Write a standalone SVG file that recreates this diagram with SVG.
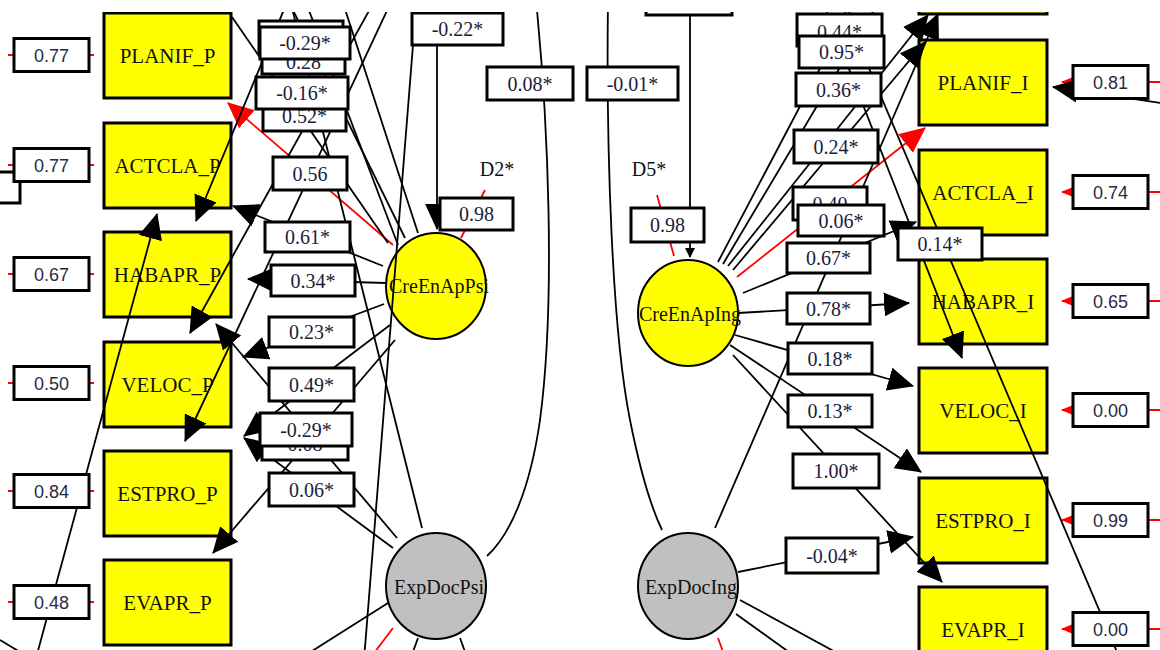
<svg xmlns="http://www.w3.org/2000/svg" width="1160" height="650" viewBox="0 0 1160 650">
<defs>
<clipPath id="frame"><rect x="0" y="12" width="1160" height="640"/></clipPath>
<marker id="ah" markerUnits="userSpaceOnUse" markerWidth="26" markerHeight="24" viewBox="0 0 24 22" refX="23" refY="11" orient="auto"><path d="M0,0 L24,11 L0,22 Z" fill="#000"/></marker>
<marker id="ahr" markerUnits="userSpaceOnUse" markerWidth="26" markerHeight="24" viewBox="0 0 24 22" refX="23" refY="11" orient="auto"><path d="M0,0 L24,11 L0,22 Z" fill="#f00"/></marker>
<marker id="ahrs" markerUnits="userSpaceOnUse" markerWidth="12" markerHeight="10" viewBox="0 0 12 10" refX="11" refY="5" orient="auto"><path d="M0,0 L12,5 L0,10 Z" fill="#f00"/></marker>
<marker id="ahs" markerUnits="userSpaceOnUse" markerWidth="10" markerHeight="10" viewBox="0 0 10 10" refX="9" refY="5" orient="auto"><path d="M0,0 L10,5 L0,10 Z" fill="#000"/></marker>
<style>
.obs rect{fill:#ffff00;stroke:#000;stroke-width:3}
.lat ellipse{fill:#ffff00;stroke:#000;stroke-width:2}
.exo ellipse{fill:#c0c0c0;stroke:#000;stroke-width:2}
.nt{font-family:'Liberation Serif','DejaVu Serif',serif;font-size:21px;fill:#111;text-anchor:middle}
.ct{font-family:'Liberation Serif','DejaVu Serif',serif;font-size:20px;fill:#111;text-anchor:middle}
.con line,.con path{stroke:#000;stroke-width:1.8;fill:none}
.con .red{stroke:#f00}
.a{marker-end:url(#ah)}
.con .ar{stroke:#f00;marker-end:url(#ahr)}
.con .ars{stroke:#f00;stroke-width:2;marker-end:url(#ahrs)}
.lab rect{fill:#fff;stroke:#000;stroke-width:3}
.lt{font-family:'Liberation Serif','DejaVu Serif',serif;font-size:20px;fill:#1c1c3c;text-anchor:middle}
.et{font-family:'Liberation Sans',Arial,sans-serif;font-size:18px;fill:#2a2a44;text-anchor:middle}
</style>
</defs>
<g clip-path="url(#frame)">
<!-- measured variables, left block -->
<g class="obs">
<g id="PLANIF_P"><rect x="104" y="13" width="127" height="85"/><text class="nt" x="167.5" y="63">PLANIF_P</text></g>
<g id="ACTCLA_P"><rect x="104" y="123" width="127" height="85"/><text class="nt" x="167.5" y="173">ACTCLA_P</text></g>
<g id="HABAPR_P"><rect x="104" y="232" width="127" height="85"/><text class="nt" x="167.5" y="282">HABAPR_P</text></g>
<g id="VELOC_P"><rect x="104" y="342" width="127" height="85"/><text class="nt" x="167.5" y="392">VELOC_P</text></g>
<g id="ESTPRO_P"><rect x="104" y="451" width="127" height="85"/><text class="nt" x="167.5" y="501">ESTPRO_P</text></g>
<g id="EVAPR_P"><rect x="104" y="560" width="127" height="85"/><text class="nt" x="167.5" y="610">EVAPR_P</text></g>
</g>
<!-- measured variables, right block -->
<g class="obs">
<g id="TOP_I"><rect x="919" y="-71" width="128" height="85"/></g>
<g id="PLANIF_I"><rect x="919" y="40" width="128" height="85"/><text class="nt" x="983" y="90">PLANIF_I</text></g>
<g id="ACTCLA_I"><rect x="919" y="150" width="128" height="85"/><text class="nt" x="983" y="200">ACTCLA_I</text></g>
<g id="HABAPR_I"><rect x="919" y="259" width="128" height="85"/><text class="nt" x="983" y="309">HABAPR_I</text></g>
<g id="VELOC_I"><rect x="919" y="368" width="128" height="85"/><text class="nt" x="983" y="418">VELOC_I</text></g>
<g id="ESTPRO_I"><rect x="919" y="478" width="128" height="85"/><text class="nt" x="983" y="528">ESTPRO_I</text></g>
<g id="EVAPR_I"><rect x="919" y="587" width="128" height="85"/><text class="nt" x="983" y="637">EVAPR_I</text></g>
</g>
<!-- latent factors -->
<g class="lat">
<g id="CreEnApPsi"><ellipse cx="436" cy="286" rx="50" ry="53"/><text class="ct" x="439" y="293">CreEnApPsi</text></g>
<g id="CreEnApIng"><ellipse cx="688" cy="313" rx="50" ry="53"/><text class="ct" x="690" y="321">CreEnApIng</text></g>
</g>
<g class="exo">
<g id="ExpDocPsi"><ellipse cx="436" cy="586" rx="50" ry="53"/><text class="ct" x="439" y="594">ExpDocPsi</text></g>
<g id="ExpDocIng"><ellipse cx="688" cy="586" rx="50" ry="53"/><text class="ct" x="691" y="594">ExpDocIng</text></g>
</g>
<!-- disturbance labels -->
<g id="D2"><text class="ct" x="497" y="176">D2*</text></g>
<g id="D5"><text class="ct" x="649" y="176">D5*</text></g>

<!-- paths -->
<g class="con">
<!-- error terms, left -->
<line class="red" x1="8" y1="55" x2="94" y2="55" style="stroke-width:2"/>
<line class="red" x1="8" y1="165" x2="94" y2="165" style="stroke-width:2"/>
<line class="red" x1="8" y1="274" x2="94" y2="274" style="stroke-width:2"/>
<line class="red" x1="8" y1="383" x2="94" y2="383" style="stroke-width:2"/>
<line class="red" x1="8" y1="491" x2="94" y2="491" style="stroke-width:2"/>
<line class="red" x1="8" y1="602" x2="94" y2="602" style="stroke-width:2"/>
<!-- error terms, right -->
<line class="ars" x1="1165" y1="82" x2="1062" y2="82"/>
<line class="ars" x1="1165" y1="192" x2="1062" y2="192"/>
<line class="ars" x1="1165" y1="301" x2="1062" y2="301"/>
<line class="ars" x1="1165" y1="410" x2="1062" y2="410"/>
<line class="ars" x1="1165" y1="520" x2="1062" y2="520"/>
<line class="ars" x1="1165" y1="629" x2="1062" y2="629"/>
<line class="a" x1="1168" y1="104" x2="1053" y2="87"/>

<!-- CreEnApPsi paths -->
<line class="ar" x1="393" y1="245" x2="228" y2="103"/>
<line class="a" x1="383" y1="266" x2="233" y2="206"/>
<line class="a" x1="386" y1="283" x2="248" y2="279"/>
<line class="a" x1="384" y1="304" x2="243" y2="357"/>
<line class="a" x1="395" y1="340" x2="213" y2="553"/>
<line class="a" x1="390" y1="325" x2="244" y2="436"/>
<line x1="388" y1="243" x2="232" y2="17"/>
<line x1="418" y1="233" x2="342" y2="0"/>
<line x1="405" y1="238" x2="288" y2="0"/>
<line x1="398" y1="245" x2="305" y2="0"/>
<!-- ExpDocPsi paths -->
<line class="a" x1="397" y1="538" x2="216" y2="324"/>
<line class="a" x1="393" y1="548" x2="244" y2="438"/>
<line x1="422" y1="528" x2="290" y2="0"/>
<line x1="388" y1="603" x2="290" y2="665"/>
<line class="red" x1="393" y1="628" x2="365" y2="665"/>
<line x1="418" y1="638" x2="410" y2="660"/>
<line x1="460" y1="638" x2="468" y2="660"/>
<!-- paths entering from above -->
<line class="a" x1="288" y1="0" x2="196" y2="221"/>
<line class="a" x1="375" y1="0" x2="190" y2="333"/>
<line class="a" x1="392" y1="0" x2="185" y2="441"/>
<line class="a" x1="30" y1="680" x2="157" y2="214"/>
<line x1="0" y1="640" x2="20" y2="652"/>
<line x1="413" y1="45" x2="364" y2="660"/>
<line class="a" x1="437" y1="45" x2="437" y2="229"/>
<line class="red" x1="485" y1="190" x2="461" y2="238"/>
<!-- covariances -->
<path d="M536,0 C548,120 556,300 540,420 C530,490 510,535 487,556"/>
<path d="M608,0 C606,150 612,330 630,420 C640,470 650,505 662,530"/>

<!-- CreEnApIng paths -->
<line x1="690" y1="0" x2="690" y2="257" style="marker-end:url(#ahs)"/>
<line class="red" x1="657" y1="195" x2="674" y2="256"/>
<line x1="718" y1="262" x2="856" y2="0"/>
<line x1="723" y1="264" x2="880" y2="0"/>
<line class="a" x1="728" y1="266" x2="928" y2="15"/>
<line class="a" x1="733" y1="270" x2="925" y2="42"/>
<line class="ar" x1="737" y1="277" x2="925" y2="128"/>
<line class="a" x1="743" y1="293" x2="916" y2="222"/>
<line class="a" x1="738" y1="313" x2="909" y2="303"/>
<line class="a" x1="735" y1="335" x2="913" y2="386"/>
<line class="a" x1="730" y1="345" x2="921" y2="472"/>
<line class="a" x1="733" y1="355" x2="942" y2="582"/>
<!-- ExpDocIng paths -->
<line class="a" x1="715" y1="528" x2="938" y2="14"/>
<line class="a" x1="738" y1="572" x2="913" y2="537"/>
<line x1="740" y1="600" x2="850" y2="660"/>
<line x1="736" y1="614" x2="800" y2="660"/>
<line class="red" x1="718" y1="638" x2="726" y2="660"/>
<!-- paths entering from above, right -->
<line class="a" x1="822" y1="0" x2="962" y2="358"/>
<line x1="840" y1="0" x2="1117" y2="652"/>
</g>

<!-- coefficient labels -->
<g class="lab">
<rect x="-60" y="172" width="80" height="31"/>
<rect x="14" y="38.5" width="75" height="33"/><text class="et" x="51.5" y="61.5">0.77</text>
<rect x="14" y="148.5" width="75" height="33"/><text class="et" x="51.5" y="171.5">0.77</text>
<rect x="14" y="257.5" width="75" height="33"/><text class="et" x="51.5" y="280.5">0.67</text>
<rect x="14" y="366.5" width="75" height="33"/><text class="et" x="51.5" y="389.5">0.50</text>
<rect x="14" y="474.5" width="75" height="33"/><text class="et" x="51.5" y="497.5">0.84</text>
<rect x="14" y="585.5" width="75" height="33"/><text class="et" x="51.5" y="608.5">0.48</text>

<rect x="1073" y="65.5" width="75" height="33"/><text class="et" x="1110.5" y="88.5">0.81</text>
<rect x="1073" y="175.5" width="75" height="33"/><text class="et" x="1110.5" y="198.5">0.74</text>
<rect x="1073" y="284.5" width="75" height="33"/><text class="et" x="1110.5" y="307.5">0.65</text>
<rect x="1073" y="393.5" width="75" height="33"/><text class="et" x="1110.5" y="416.5">0.00</text>
<rect x="1073" y="503.5" width="75" height="33"/><text class="et" x="1110.5" y="526.5">0.99</text>
<rect x="1073" y="612.5" width="75" height="33"/><text class="et" x="1110.5" y="635.5">0.00</text>

<rect x="259" y="21" width="84" height="32"/>
<rect x="262" y="42" width="83" height="32"/><text class="lt" x="303.5" y="69">0.28</text>
<rect x="260" y="27" width="90" height="32"/><text class="lt" x="305" y="50">-0.29*</text>
<rect x="263" y="99" width="83" height="32"/><text class="lt" x="304.5" y="123">0.52*</text>
<rect x="256" y="77" width="92" height="32"/><text class="lt" x="302" y="100">-0.16*</text>
<rect x="273" y="157" width="74" height="33"/><text class="lt" x="310" y="180.5">0.56</text>
<rect x="265" y="222" width="85" height="30"/><text class="lt" x="307.5" y="244">0.61*</text>
<rect x="271" y="265" width="84" height="31"/><text class="lt" x="313" y="287.5">0.34*</text>
<rect x="269" y="317" width="85" height="30"/><text class="lt" x="311.5" y="339">0.23*</text>
<rect x="269" y="368" width="85" height="33"/><text class="lt" x="311.5" y="391.5">0.49*</text>
<rect x="262" y="427" width="86" height="33"/><text class="lt" x="305" y="451">0.08</text>
<rect x="260" y="413" width="92" height="33"/><text class="lt" x="306" y="436.5">-0.29*</text>
<rect x="269" y="473" width="85" height="33"/><text class="lt" x="311.5" y="496.5">0.06*</text>

<rect x="412" y="13" width="91" height="32"/><text class="lt" x="457.5" y="36">-0.22*</text>
<rect x="487" y="67" width="86" height="33"/><text class="lt" x="530" y="90.5">0.08*</text>
<rect x="587" y="67" width="91" height="33"/><text class="lt" x="632.5" y="90.5">-0.01*</text>
<rect x="646" y="-20" width="86" height="35"/>
<rect x="440" y="198" width="73" height="32"/><text class="lt" x="476.5" y="221">0.98</text>
<rect x="631" y="208" width="73" height="34"/><text class="lt" x="667.5" y="232">0.98</text>

<rect x="797" y="14" width="85" height="32"/><text class="lt" x="839.5" y="39">0.44*</text>
<rect x="799" y="36" width="85" height="32"/><text class="lt" x="841.5" y="59">0.95*</text>
<rect x="796" y="73" width="85" height="33"/><text class="lt" x="838.5" y="96.5">0.36*</text>
<rect x="794" y="130" width="84" height="33"/><text class="lt" x="836" y="153.5">0.24*</text>
<rect x="793" y="187" width="74" height="33"/><text class="lt" x="830" y="211">0.40</text>
<rect x="798" y="205" width="86" height="31"/><text class="lt" x="841" y="227.5">0.06*</text>
<rect x="787" y="243" width="83" height="30"/><text class="lt" x="828.5" y="265">0.67*</text>
<rect x="898" y="228" width="84" height="32"/><text class="lt" x="940" y="251">0.14*</text>
<rect x="787" y="293" width="83" height="31"/><text class="lt" x="828.5" y="315.5">0.78*</text>
<rect x="788" y="343" width="84" height="31"/><text class="lt" x="830" y="365.5">0.18*</text>
<rect x="788" y="395" width="84" height="32"/><text class="lt" x="830" y="418">0.13*</text>
<rect x="793" y="454" width="86" height="34"/><text class="lt" x="836" y="478">1.00*</text>
<rect x="786" y="538" width="92" height="35"/><text class="lt" x="832" y="562.5">-0.04*</text>
</g>
</g>
</svg>
